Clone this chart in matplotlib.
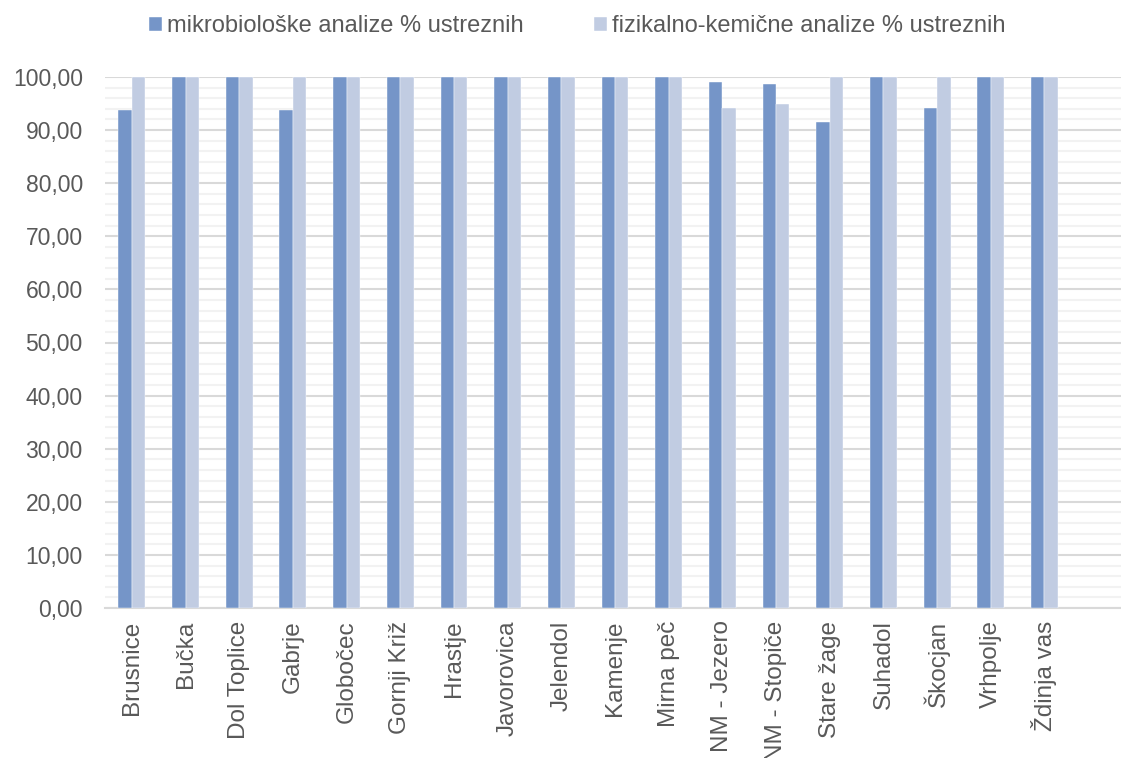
import matplotlib.pyplot as plt
from matplotlib.ticker import FuncFormatter, MultipleLocator
import numpy as np

plt.rcParams['font.family'] = ['Liberation Sans', 'DejaVu Sans']

kraji = ["Brusnice", "Bučka", "Dol Toplice", "Gabrje", "Globočec", "Gornji Križ",
         "Hrastje", "Javorovica", "Jelendol", "Kamenje", "Mirna peč", "NM - Jezero",
         "NM - Stopiče", "Stare žage", "Suhadol", "Škocjan", "Vrhpolje", "Ždinja vas", ""]
mikro = [93.7, 100, 100, 93.7, 100, 100, 100, 100, 100, 100, 100, 99.0,
         98.7, 91.6, 100, 94.1, 100, 100, np.nan]
fizkem = [100, 100, 100, 100, 100, 100, 100, 100, 100, 100, 100, 94.1,
          95.0, 100, 100, 100, 100, 100, np.nan]

siva = "#595959"
x = np.arange(len(kraji))
w = 0.25

fig = plt.figure(figsize=(11.21, 7.58), dpi=100)
ax = fig.add_axes([105 / 1121, 1 - 608 / 758, 1020 / 1121, 531 / 758])

ax.bar(x - w / 2, mikro, w, color="#7595C8", edgecolor="white", linewidth=0.3,
       label="mikrobiološke analize % ustreznih", zorder=3)
ax.bar(x + w / 2, fizkem, w, color="#C1CCE2", edgecolor="white", linewidth=0.3,
       label="fizikalno-kemične analize % ustreznih", zorder=3)

ax.set_xlim(-0.5, len(kraji) - 0.5)
ax.set_ylim(0, 100)
ax.yaxis.set_major_locator(MultipleLocator(10))
ax.yaxis.set_minor_locator(MultipleLocator(2))
ax.yaxis.set_major_formatter(FuncFormatter(lambda v, p: f"{v:.2f}".replace(".", ",")))
ax.grid(axis="y", which="major", color="#D9D9D9", linewidth=1.5, zorder=0)
ax.grid(axis="y", which="minor", color="#F2F2F2", linewidth=1.5, zorder=0)

ax.set_xticks(x)
ax.set_xticklabels(kraji, rotation=90, fontsize=17.5, color=siva)
ax.tick_params(axis="x", length=0, pad=9)
ax.tick_params(axis="y", which="both", length=0, labelsize=16.5, labelcolor=siva, pad=16)

for s in ["top", "right", "left"]:
    ax.spines[s].set_visible(False)
ax.spines["bottom"].set_color("#D9D9D9")
ax.spines["bottom"].set_linewidth(1.5)

leg = fig.legend(loc="center", bbox_to_anchor=(0.515, 1 - 26 / 758), ncol=2, frameon=False,
                 fontsize=17, handlelength=0.55, handleheight=0.55, handletextpad=0.2,
                 columnspacing=3.0)
for t in leg.get_texts():
    t.set_color(siva)

fig.savefig("out.png", dpi=100)
